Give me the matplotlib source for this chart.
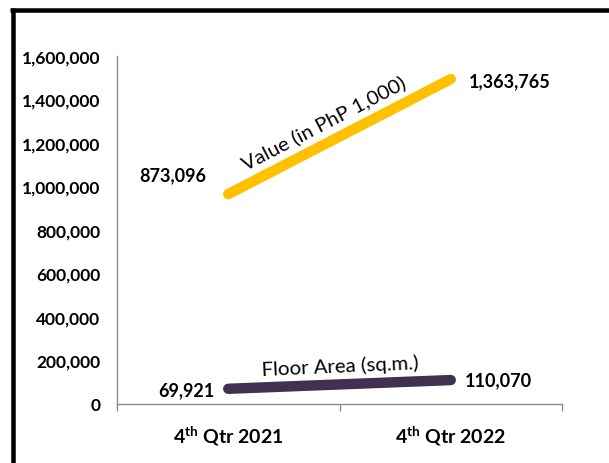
import matplotlib
matplotlib.use("Agg")
import matplotlib.pyplot as plt
from matplotlib.lines import Line2D
from matplotlib.ticker import FuncFormatter, FixedLocator

# ---- data ----
categories = ["4th Qtr 2021", "4th Qtr 2022"]
value_labels = [873096, 1363765]          # printed data labels (PhP 1,000)
value_line = [965000, 1494000]            # where the gold line is drawn in the picture
floor_area = [69921, 110070]              # sq.m.
series_names = ["Value (in PhP 1,000)", "Floor Area (sq.m.)"]
y_ticks = [0, 200000, 400000, 600000, 800000, 1000000, 1200000, 1400000, 1600000]

GOLD = "#FFC000"
PURPLE = "#403151"
AXIS = "#8C8C8C"

plt.rcParams['font.family'] = ['Lato', 'DejaVu Sans']
plt.rcParams['mathtext.fontset'] = 'custom'
plt.rcParams['mathtext.rm'] = 'Lato:bold'
plt.rcParams['mathtext.it'] = 'Lato:bold'
plt.rcParams['mathtext.bf'] = 'Lato:bold'

W, H = 609, 464
fig = plt.figure(figsize=(W / 100, H / 100), dpi=100)
ax = fig.add_axes([117 / W, 1 - 405 / H, (562 - 117) / W, (405 - 57) / H])

x = list(range(len(categories)))
ax.plot(x, value_line, color=GOLD, lw=7.5, solid_capstyle='round', zorder=3)
ax.plot(x, floor_area, color=PURPLE, lw=7.5, solid_capstyle='round', zorder=3)

ax.set_xlim(-0.5, 1.5)
ax.set_ylim(0, 1600000)

for s in ["top", "right"]:
    ax.spines[s].set_visible(False)
for s in ["left", "bottom"]:
    ax.spines[s].set_color(AXIS)
    ax.spines[s].set_linewidth(1.0)

ax.yaxis.set_major_locator(FixedLocator(y_ticks))
ax.yaxis.set_major_formatter(FuncFormatter(lambda v, p: f"{int(v):,}"))
ax.tick_params(axis='y', length=0, pad=12, labelsize=12.5)
for lab in ax.get_yticklabels():
    lab.set_fontweight('bold')

# category labels at centers, tick marks at boundaries
ax.set_xticks([-0.5, 0.5, 1.5], minor=True)
ax.tick_params(axis='x', which='minor', length=5, color=AXIS, width=1.0)
ax.set_xticks(x)
cat_texts = [r"$\mathrm{4^{th}}$" + c[3:] for c in categories]
ax.set_xticklabels(cat_texts, fontsize=14, fontweight='bold')
ax.tick_params(axis='x', which='major', length=0, pad=14)

# data labels
ax.annotate(f"{value_labels[0]:,}", (x[0], value_line[0]), xytext=(-40, 14),
            textcoords='offset points', ha='center', va='center', fontsize=13, fontweight='bold')
ax.annotate(f"{value_labels[1]:,}", (x[1], value_line[1]), xytext=(13, -1),
            textcoords='offset points', ha='left', va='center', fontsize=13, fontweight='bold')
ax.annotate(f"{floor_area[0]:,}", (x[0], floor_area[0]), xytext=(-10, -1),
            textcoords='offset points', ha='right', va='center', fontsize=13, fontweight='bold')
ax.annotate(f"{floor_area[1]:,}", (x[1], floor_area[1]), xytext=(10, 0),
            textcoords='offset points', ha='left', va='center', fontsize=13, fontweight='bold')

# series names along lines
ax.text(0.43, 1295000, series_names[0], rotation=27.4, rotation_mode='anchor',
        ha='center', va='center', fontsize=14.7)
ax.text(0.503, 179000, series_names[1], rotation=2.5, rotation_mode='anchor',
        ha='center', va='center', fontsize=14.7)

# frame around figure (top and left visible)
lw_px = 4.5
fig.add_artist(Line2D([10 / W, 1.0], [1 - 11 / H, 1 - 11 / H], transform=fig.transFigure,
                      color='black', lw=lw_px * 0.72, solid_capstyle='butt'))
fig.add_artist(Line2D([12.5 / W, 12.5 / W], [1 - 9 / H, 0.0], transform=fig.transFigure,
                      color='black', lw=lw_px * 0.72, solid_capstyle='butt'))

fig.savefig("out.png", dpi=100)
